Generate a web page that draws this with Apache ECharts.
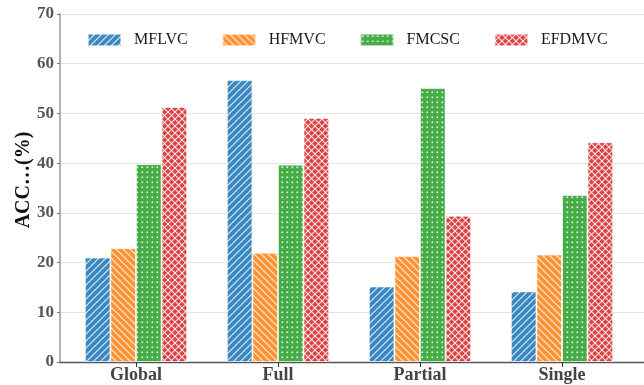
<!DOCTYPE html>
<html>
<head>
<meta charset="utf-8">
<script src="https://cdn.jsdelivr.net/npm/echarts@6/dist/echarts.min.js"></script>
<style>
  html, body { margin: 0; padding: 0; background: #fff; }
  #chart { width: 644px; height: 385px; }
</style>
</head>
<body>
<div id="chart"></div>
<script>
// Categories and accuracy values (%) per method
const categories = ['Global', 'Full', 'Partial', 'Single'];
const seriesNames = ['MFLVC', 'HFMVC', 'FMCSC', 'EFDMVC'];
const mflvc  = [21.0, 56.7, 15.2, 14.2];
const hfmvc  = [22.9, 22.0, 21.3, 21.6];
const fmcsc  = [39.8, 39.7, 55.1, 33.6];
const efdmvc = [51.3, 49.1, 29.4, 44.2];
const yTicks = [0, 10, 20, 30, 40, 50, 60, 70];

const baseColors = ['#3a88c1', '#ff9232', '#46ac46', '#dc4243'];
const serif = 'Liberation Serif';

// Build a repeating hatch tile on a small canvas
function makeTile(color, kind) {
  const s = kind === 'dots' ? 5 : 7;
  const c = document.createElement('canvas');
  c.width = s; c.height = s;
  const g = c.getContext('2d');
  g.fillStyle = color;
  g.fillRect(0, 0, s, s);
  g.strokeStyle = 'rgba(255,255,255,0.85)';
  g.fillStyle = 'rgba(255,255,255,0.9)';
  g.lineWidth = 1.1;
  const fwd = () => {
    g.beginPath();
    g.moveTo(-1, s + 1); g.lineTo(s + 1, -1);
    g.moveTo(-1, 1); g.lineTo(1, -1);
    g.moveTo(s - 1, s + 1); g.lineTo(s + 1, s - 1);
    g.stroke();
  };
  const back = () => {
    g.beginPath();
    g.moveTo(-1, -1); g.lineTo(s + 1, s + 1);
    g.moveTo(s - 1, -1); g.lineTo(s + 1, 1);
    g.moveTo(-1, s - 1); g.lineTo(1, s + 1);
    g.stroke();
  };
  if (kind === 'fwd') fwd();
  else if (kind === 'back') back();
  else if (kind === 'cross') { fwd(); back(); }
  else if (kind === 'dots') g.fillRect(1.5, 1.5, 1.6, 1.6);
  return c;
}

const kinds = ['fwd', 'back', 'dots', 'cross'];
const dataSets = [mflvc, hfmvc, fmcsc, efdmvc];

const series = seriesNames.map((name, i) => ({
  name: name,
  type: 'bar',
  xAxisIndex: 1,
  yAxisIndex: 1,
  data: dataSets[i],
  barGap: '0%',
  barCategoryGap: '28%',
  itemStyle: {
    color: { image: makeTile(baseColors[i], kinds[i]), repeat: 'repeat' },
    borderColor: 'rgba(255,255,255,0.55)',
    borderWidth: 1
  },
  emphasis: { disabled: true }
}));

const chart = echarts.init(document.getElementById('chart'), null, { renderer: 'canvas' });
chart.setOption({
  animation: false,
  backgroundColor: '#ffffff',
  grid: [
    // frame: y axis, grid lines and the full-width baseline
    { left: 60, right: 0, top: 14, bottom: 23 },
    // bars and category labels
    { left: 65, right: 11, top: 14, bottom: 23 }
  ],
  legend: {
    top: 27,
    left: 82,
    itemWidth: 33,
    itemHeight: 12,
    itemGap: 34,
    icon: 'rect',
    textStyle: { fontFamily: serif, fontSize: 16, color: '#1a1a1a', padding: [0, 0, 0, 8] },
    data: seriesNames
  },
  xAxis: [
    {
      gridIndex: 0,
      type: 'value', min: 0, max: 1,
      axisLine: { show: true, onZero: false, lineStyle: { color: '#555', width: 1.3 } },
      axisTick: { show: false },
      axisLabel: { show: false },
      splitLine: { show: false }
    },
    {
      gridIndex: 1,
      type: 'category',
      data: categories,
      axisLine: { show: false },
      axisTick: { show: true, alignWithLabel: true, length: 5, lineStyle: { color: '#333' } },
      axisLabel: {
        fontFamily: serif, fontWeight: 'bold', fontSize: 18,
        color: '#444', margin: 4
      }
    }
  ],
  yAxis: [
    {
      gridIndex: 0,
      type: 'value',
      min: yTicks[0],
      max: yTicks[yTicks.length - 1],
      interval: 10,
      name: 'ACC…(%)',
      nameLocation: 'middle',
      nameGap: 26,
      nameMoveOverlap: false,
      nameTextStyle: {
        fontFamily: serif, fontWeight: 'bold', fontSize: 20, color: '#111',
        padding: [0, 0, 0, 16]
      },
      axisLine: { show: true, lineStyle: { color: '#999', width: 1.5 } },
      axisTick: { show: true, length: 3, lineStyle: { color: '#777' } },
      axisLabel: {
        fontFamily: serif, fontWeight: 'bold', fontSize: 17,
        color: '#555', margin: 6
      },
      splitLine: { lineStyle: { color: '#e6e6e6', width: 1.2 } }
    },
    {
      gridIndex: 1,
      type: 'value',
      min: yTicks[0],
      max: yTicks[yTicks.length - 1],
      interval: 10,
      show: false,
      splitLine: { show: false }
    }
  ],
  series: series
});
</script>
</body>
</html>
